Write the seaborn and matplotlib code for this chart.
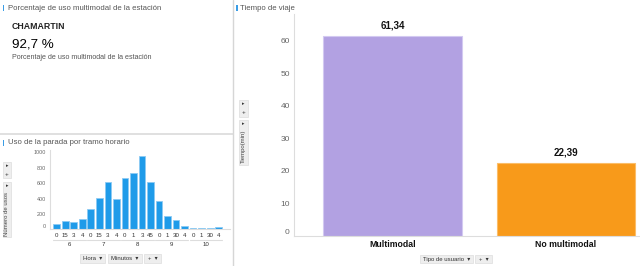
import numpy as np
import pandas as pd
import matplotlib
matplotlib.use('Agg')
import matplotlib.pyplot as plt
import seaborn as sns
from matplotlib.patches import Rectangle
from matplotlib.lines import Line2D

# ---------------- data ----------------
estacion = 'CHAMARTIN'
porcentaje = '92,7 %'
horas = ['6', '7', '8', '9', '10']
minutos = ['0', '15', '3', '4', '0', '15', '3', '4', '0', '1', '3', '45',
           '0', '1', '30', '4', '0', '1', '30', '4']
usos = [70, 105, 90, 140, 260, 410, 610, 395, 670, 730, 950, 620, 370, 170,
        118, 43, 20, 18, 24, 32]
tipos = ['Multimodal', 'No multimodal']
tiempos = [61.34, 22.39]

W, H = 640, 266
sns.set_style('white')
plt.rcParams['font.family'] = ['Liberation Sans', 'DejaVu Sans']

fig = plt.figure(figsize=(6.4, 2.66), dpi=100)
fig.patch.set_facecolor('white')


def fx(x):
    return x / W


def fy(y):
    return 1 - y / H


def ftext(x, y, s, **kw):
    kw.setdefault('va', 'center')
    fig.text(fx(x), fy(y), s, **kw)


def frect(x0, y0, x1, y1, fc, ec=None, lw=0.0):
    fig.add_artist(Rectangle((fx(x0), fy(y1)), (x1 - x0) / W, (y1 - y0) / H,
                             transform=fig.transFigure, facecolor=fc,
                             edgecolor=ec if ec else fc, linewidth=lw))


def fline(x0, y0, x1, y1, color, lw=1.0):
    fig.add_artist(Line2D([fx(x0), fx(x1)], [fy(y0), fy(y1)],
                          transform=fig.transFigure, color=color, lw=lw))


def button(x0, x1, y0, y1, s):
    frect(x0, y0, x1, y1, '#eeeeee', '#dddddd', 0.5)
    ftext((x0 + x1) / 2, (y0 + y1) / 2, s, ha='center', fontsize=4.3,
          color='#333333')


# ---------------- panel frames ----------------
fline(233, 0, 233, 266, '#d6d6d6', 1.0)
fline(0, 134, 233, 134, '#dadada', 1.2)

# titles
frect(2.5, 4.7, 4.2, 10.8, '#3a9de6')
ftext(8, 8, 'Porcentaje de uso multimodal de la estación', fontsize=5.6,
      color='#555555')
frect(2.5, 139.8, 4.2, 146, '#3a9de6')
ftext(8, 143, 'Uso de la parada por tramo horario', fontsize=5.6,
      color='#555555')
frect(236.3, 4.7, 238, 10.8, '#3a9de6')
ftext(240, 8, 'Tiempo de viaje', fontsize=5.6, color='#555555')

# KPI panel
ftext(12, 26.8, estacion, fontsize=6.3, fontweight='bold', color='#222222')
ftext(12, 44.5, porcentaje, fontsize=9.6, color='#000000')
ftext(12, 57.5, 'Porcentaje de uso multimodal de la estación', fontsize=5.1,
      color='#555555')

# ---------------- left bottom chart ----------------
ax1 = fig.add_axes([fx(50), fy(229.4), (230 - 50) / W, (229.4 - 150) / H])
df1 = pd.DataFrame({'tramo': [f'{i}' for i in range(len(usos))],
                    'usos': usos})
sns.barplot(data=df1, x='tramo', y='usos', color='#1f9be9', saturation=1,
            width=0.78, ax=ax1)
for p in ax1.patches:
    p.set_edgecolor('#8ccaf4')
    p.set_linewidth(0.6)
ax1.set_yticks(range(0, 1001, 200))
ax1.set_yticklabels([str(v) for v in range(0, 1001, 200)])
ax1.set_xticks(range(len(minutos)))
ax1.set_xticklabels(minutos)
ax1.set_xlim(-0.785, 20.32)
ax1.set_ylim(0, 1031)
ax1.tick_params(axis='y', labelsize=3.9, labelcolor='#666666', length=1.5,
                color='#cccccc', pad=1.5, width=0.5)
ax1.tick_params(axis='x', labelsize=4.4, labelcolor='#333333', length=0,
                pad=2.6)
ax1.set_xlabel('')
ax1.set_ylabel('')
for s in ['top', 'right']:
    ax1.spines[s].set_visible(False)
for s in ['left', 'bottom']:
    ax1.spines[s].set_color('#dddddd')
    ax1.spines[s].set_linewidth(0.8)
ax1.yaxis.get_major_ticks()[0].label1.set_va('bottom')
tr1 = ax1.get_xaxis_transform()
for g, h in enumerate(horas):
    ax1.add_line(Line2D([4 * g - 0.42, 4 * g + 3.42], [-0.137, -0.137],
                        transform=tr1, color='#dddddd', lw=0.8,
                        clip_on=False))
    ax1.text(4 * g + 1.5, -0.19, h, transform=tr1, ha='center', va='center',
             fontsize=4.4, color='#333333')

# y-label widget left
frect(3, 162, 11, 178, '#eeeeee', '#dddddd', 0.5)
ftext(7, 166, '▸', ha='center', fontsize=3.5, color='#333333')
ftext(7, 175, '+', ha='center', fontsize=4.5, color='#333333')
frect(3, 182, 11, 237, '#eeeeee', '#dddddd', 0.5)
ftext(7, 186, '▸', ha='center', fontsize=3.5, color='#333333')
ftext(7, 214, 'Número de usos', ha='center', rotation=90, fontsize=4.3,
      color='#444444')

button(80, 105, 254.3, 263.3, 'Hora  ▾')
button(108.3, 141.7, 254.3, 263.3, 'Minutos  ▾')
button(144, 160.7, 254.3, 263.3, '+  ▾')

# ---------------- right chart ----------------
ax2 = fig.add_axes([fx(294), fy(236), (640 - 294) / W, (236 - 14) / H])
df2 = pd.DataFrame({'tipo': tipos, 'tiempo': tiempos})
sns.barplot(data=df2, x='tipo', y='tiempo', hue='tipo',
            palette=['#b2a1e2', '#f89a1a'], saturation=1, width=0.8,
            legend=False, ax=ax2)
for p, ec in zip(ax2.patches, ['#d3c9f1', '#fbbd68']):
    p.set_edgecolor(ec)
    p.set_linewidth(0.8)
for c, v in zip(ax2.containers, tiempos):
    ax2.bar_label(c, labels=[f'{v:.2f}'.replace('.', ',')], padding=4,
                  fontsize=7, fontweight='bold', color='#111111')
ax2.set_yticks(range(0, 61, 10))
ax2.set_yticklabels([str(v) for v in range(0, 61, 10)])
ax2.set_xticks([0, 1])
ax2.set_xticklabels(tipos, fontweight='bold', fontsize=6.3, color='#111111')
ax2.set_xticks([-0.5, 0.5, 1.5], minor=True)
ax2.set_xlim(-0.569, 1.427)
ax2.set_ylim(0, 68.2)
ax2.tick_params(axis='x', which='major', length=0, pad=3)
ax2.tick_params(axis='x', which='minor', length=2.5, color='#cccccc',
                width=0.6)
ax2.tick_params(axis='y', labelsize=6, labelcolor='#666666', length=2,
                color='#cccccc', pad=1, width=0.6)
ax2.set_xlabel('')
ax2.set_ylabel('')
for s in ['top', 'right']:
    ax2.spines[s].set_visible(False)
for s in ['left', 'bottom']:
    ax2.spines[s].set_color('#dddddd')
    ax2.spines[s].set_linewidth(0.8)
ax2.yaxis.get_major_ticks()[0].label1.set_va('bottom')

# y-label widget right
frect(239, 100, 247.5, 117, '#eeeeee', '#dddddd', 0.5)
ftext(243.3, 103.5, '▸', ha='center', fontsize=3.5, color='#333333')
ftext(243.3, 112, '+', ha='center', fontsize=4.5, color='#333333')
frect(239, 119.5, 247.5, 165, '#eeeeee', '#dddddd', 0.5)
ftext(243.3, 123.5, '▸', ha='center', fontsize=3.5, color='#333333')
ftext(243.3, 146, 'Tiempo(min)', ha='center', rotation=90, fontsize=4.3,
      color='#444444')

button(420, 473.3, 255, 263.3, 'Tipo de usuario  ▾')
button(475, 492.3, 255, 263.3, '+  ▾')

fig.savefig('out.png', dpi=100, facecolor='white')
